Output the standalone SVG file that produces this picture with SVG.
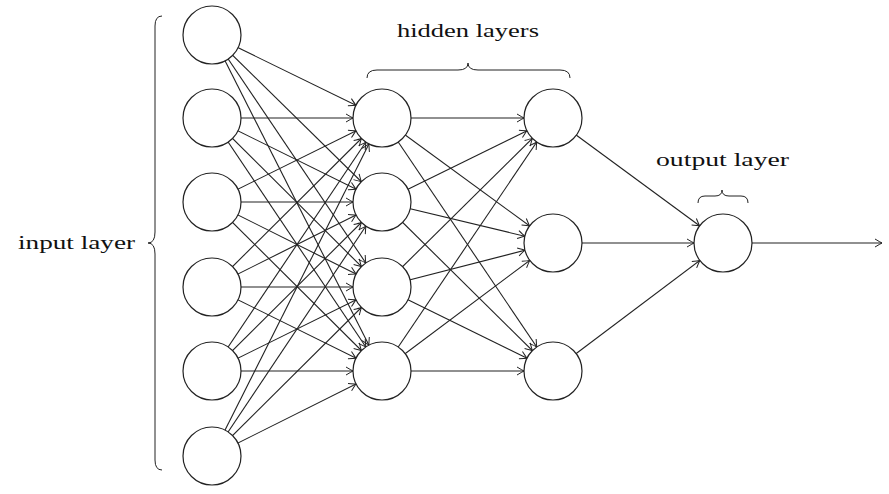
<svg xmlns="http://www.w3.org/2000/svg" width="889" height="494" viewBox="0 0 889 494">
<style>
.e{stroke:#222;stroke-width:1.1;fill:none;marker-end:url(#a)}
.n{fill:#fff;stroke:#222;stroke-width:1.2}
.b{fill:none;stroke:#222;stroke-width:1}
text{font-family:"Liberation Serif","DejaVu Serif",serif;font-size:19px;fill:#111}
</style>
<defs>
<marker id="a" markerUnits="userSpaceOnUse" markerWidth="50" markerHeight="12" viewBox="-10 -6 50 12" refX="29" refY="0" orient="auto" overflow="visible"><path d="M-7,-4 Q-2,-1 0,0 Q-2,1 -7,4" fill="none" stroke="#222" stroke-width="1"/></marker>
<marker id="a0" markerUnits="userSpaceOnUse" markerWidth="12" markerHeight="12" viewBox="-10 -6 12 12" refX="0" refY="0" orient="auto" overflow="visible"><path d="M-7,-4 Q-2,-1 0,0 Q-2,1 -7,4" fill="none" stroke="#222" stroke-width="1"/></marker>
</defs>
<g id="connectors">
<line class="e" x1="212" y1="35" x2="382" y2="118"/><line class="e" x1="212" y1="35" x2="382" y2="202"/><line class="e" x1="212" y1="35" x2="382" y2="287"/><line class="e" x1="212" y1="35" x2="382" y2="371"/>
<line class="e" x1="212" y1="118" x2="382" y2="118"/><line class="e" x1="212" y1="118" x2="382" y2="202"/><line class="e" x1="212" y1="118" x2="382" y2="287"/><line class="e" x1="212" y1="118" x2="382" y2="371"/>
<line class="e" x1="212" y1="202" x2="382" y2="118"/><line class="e" x1="212" y1="202" x2="382" y2="202"/><line class="e" x1="212" y1="202" x2="382" y2="287"/><line class="e" x1="212" y1="202" x2="382" y2="371"/>
<line class="e" x1="212" y1="287" x2="382" y2="118"/><line class="e" x1="212" y1="287" x2="382" y2="202"/><line class="e" x1="212" y1="287" x2="382" y2="287"/><line class="e" x1="212" y1="287" x2="382" y2="371"/>
<line class="e" x1="212" y1="371" x2="382" y2="118"/><line class="e" x1="212" y1="371" x2="382" y2="202"/><line class="e" x1="212" y1="371" x2="382" y2="287"/><line class="e" x1="212" y1="371" x2="382" y2="371"/>
<line class="e" x1="212" y1="456" x2="382" y2="118"/><line class="e" x1="212" y1="456" x2="382" y2="202"/><line class="e" x1="212" y1="456" x2="382" y2="287"/><line class="e" x1="212" y1="456" x2="382" y2="371"/>
<line class="e" x1="382" y1="118" x2="553" y2="118"/><line class="e" x1="382" y1="118" x2="553" y2="243"/><line class="e" x1="382" y1="118" x2="553" y2="371"/>
<line class="e" x1="382" y1="202" x2="553" y2="118"/><line class="e" x1="382" y1="202" x2="553" y2="243"/><line class="e" x1="382" y1="202" x2="553" y2="371"/>
<line class="e" x1="382" y1="287" x2="553" y2="118"/><line class="e" x1="382" y1="287" x2="553" y2="243"/><line class="e" x1="382" y1="287" x2="553" y2="371"/>
<line class="e" x1="382" y1="371" x2="553" y2="118"/><line class="e" x1="382" y1="371" x2="553" y2="243"/><line class="e" x1="382" y1="371" x2="553" y2="371"/>
<line class="e" x1="553" y1="118" x2="723" y2="243"/><line class="e" x1="553" y1="243" x2="723" y2="243"/><line class="e" x1="553" y1="371" x2="723" y2="243"/>
<line x1="752" y1="243" x2="882" y2="243" stroke="#222" stroke-width="1.1" marker-end="url(#a0)"/>
</g>
<g id="input-nodes">
<circle id="i1" class="n" cx="212" cy="35" r="29"/><circle id="i2" class="n" cx="212" cy="118" r="29"/><circle id="i3" class="n" cx="212" cy="202" r="29"/><circle id="i4" class="n" cx="212" cy="287" r="29"/><circle id="i5" class="n" cx="212" cy="371" r="29"/><circle id="i6" class="n" cx="212" cy="456" r="29"/>
</g>
<g id="hidden1-nodes">
<circle id="h1" class="n" cx="382" cy="118" r="29"/><circle id="h2" class="n" cx="382" cy="202" r="29"/><circle id="h3" class="n" cx="382" cy="287" r="29"/><circle id="h4" class="n" cx="382" cy="371" r="29"/>
</g>
<g id="hidden2-nodes">
<circle id="k1" class="n" cx="553" cy="118" r="29"/><circle id="k2" class="n" cx="553" cy="243" r="29"/><circle id="k3" class="n" cx="553" cy="371" r="29"/>
</g>
<g id="output-node"><circle id="o1" class="n" cx="723" cy="243" r="29"/></g>
<g id="labels">
<path class="b" d="M162,16 Q155,16 155,26 L155,232 Q155,243 148,243 Q155,243 155,254 L155,460 Q155,470 162,470"/>
<text x="18" y="249" textLength="117" lengthAdjust="spacingAndGlyphs">input layer</text>
<path class="b" d="M367,78 Q367,70 377,70 L458,70 Q468,70 468,63 Q468,70 478,70 L560,70 Q570,70 570,78"/>
<text x="397" y="37" textLength="142" lengthAdjust="spacingAndGlyphs">hidden layers</text>
<path class="b" d="M698,203 Q698,196 705,196 L715,196 Q722,196 722,190 Q722,196 729,196 L741,196 Q748,196 748,203"/>
<text x="656" y="166" textLength="133" lengthAdjust="spacingAndGlyphs">output layer</text>
</g>
</svg>
